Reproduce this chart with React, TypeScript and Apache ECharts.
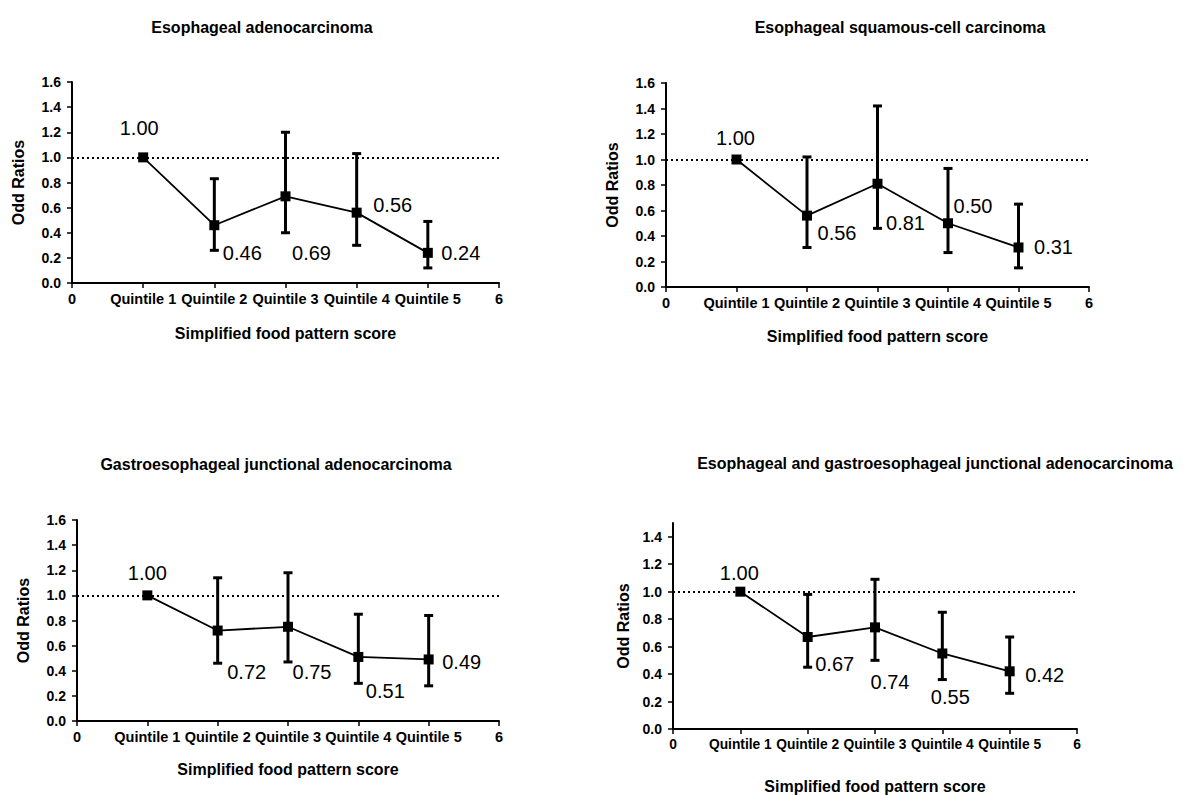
import React, { useEffect, useRef } from "react";
import * as echarts from "echarts";

// ---- data ----
const xTickLabels = ["0", "Quintile 1", "Quintile 2", "Quintile 3", "Quintile 4", "Quintile 5", "6"];
const quintiles = [1, 2, 3, 4, 5];
const refValue = 1.0;

const titles = [
  "Esophageal adenocarcinoma",
  "Esophageal squamous-cell carcinoma",
  "Gastroesophageal junctional adenocarcinoma",
  "Esophageal and gastroesophageal junctional adenocarcinoma",
];
const xAxisName = "Simplified food pattern score";
const yAxisName = "Odd Ratios";

const or1 = [1.0, 0.46, 0.69, 0.56, 0.24];
const lo1 = [null, 0.26, 0.4, 0.3, 0.12];
const hi1 = [null, 0.83, 1.2, 1.03, 0.49];

const or2 = [1.0, 0.56, 0.81, 0.5, 0.31];
const lo2 = [null, 0.31, 0.46, 0.27, 0.15];
const hi2 = [null, 1.02, 1.42, 0.93, 0.65];

const or3 = [1.0, 0.72, 0.75, 0.51, 0.49];
const lo3 = [null, 0.46, 0.47, 0.3, 0.28];
const hi3 = [null, 1.14, 1.18, 0.85, 0.84];

const or4 = [1.0, 0.67, 0.74, 0.55, 0.42];
const lo4 = [null, 0.45, 0.5, 0.36, 0.26];
const hi4 = [null, 0.98, 1.09, 0.85, 0.67];

const yTicks16 = [0, 0.2, 0.4, 0.6, 0.8, 1.0, 1.2, 1.4, 1.6];
const yTicks14 = [0, 0.2, 0.4, 0.6, 0.8, 1.0, 1.2, 1.4];

// ---- layout / style (not data) ----
const FONT = "'Liberation Sans', Arial, sans-serif";

const panels = [
  { or: or1, lo: lo1, hi: hi1, yMax: 1.6, yTicks: yTicks16, xFont: 14.5,
    grid: { left: 72, top: 82, width: 427, height: 201 },
    title: [262, 27], yGap: 46, xGap: 42,
    offsets: [[-4, -29], [28, 28], [26, 57], [36, -8], [33, 0]] },
  { or: or2, lo: lo2, hi: hi2, yMax: 1.6, yTicks: yTicks16, xFont: 14.5,
    grid: { left: 666, top: 83, width: 423, height: 204 },
    title: [900, 27], yGap: 46, xGap: 41,
    offsets: [[-1, -22], [30, 17], [28, 39], [25, -17], [35, 0]] },
  { or: or3, lo: lo3, hi: hi3, yMax: 1.6, yTicks: yTicks16, xFont: 14.5,
    grid: { left: 77, top: 520, width: 422, height: 201 },
    title: [276, 464], yGap: 46, xGap: 40,
    offsets: [[0, -22], [29, 41], [24, 45], [27, 34], [33, 3]] },
  { or: or4, lo: lo4, hi: hi4, yMax: 1.5, yTicks: yTicks14, xFont: 13.8,
    grid: { left: 673, top: 523, width: 404, height: 206 },
    title: [935, 463], yGap: 42, xGap: 49,
    offsets: [[-1, -19], [27, 27], [15, 55], [8, 44], [35, 4]] },
];

function buildOption() {
  const grid: any[] = [];
  const xAxis: any[] = [];
  const yAxis: any[] = [];
  const series: any[] = [];
  const graphic: any[] = [];

  panels.forEach((p, i) => {
    grid.push({ ...p.grid, containLabel: false, outerBoundsMode: "none" });
    xAxis.push({
      type: "value", gridIndex: i, min: 0, max: 6, interval: 1,
      name: xAxisName, nameLocation: "middle", nameGap: p.xGap, nameMoveOverlap: false,
      nameTextStyle: { fontFamily: FONT, fontWeight: "bold", fontSize: 16, color: "#000" },
      axisLine: { show: true, onZero: false, lineStyle: { color: "#000", width: 2 } },
      axisTick: { show: true, length: 5, lineStyle: { color: "#000", width: 1.5 } },
      axisLabel: {
        margin: 8, color: "#000", fontFamily: FONT, fontWeight: "bold", fontSize: p.xFont,
        formatter: (v: number) => xTickLabels[Math.round(v)] ?? "",
      },
      splitLine: { show: false },
    });
    yAxis.push({
      type: "value", gridIndex: i, min: 0, max: p.yMax, interval: 0.2,
      name: yAxisName, nameLocation: "middle", nameGap: p.yGap, nameMoveOverlap: false,
      nameTextStyle: { fontFamily: FONT, fontWeight: "bold", fontSize: 16, color: "#000" },
      axisLine: { show: true, onZero: false, lineStyle: { color: "#000", width: 2 } },
      axisTick: { show: true, length: 5, customValues: p.yTicks, lineStyle: { color: "#000", width: 1.5 } },
      axisLabel: {
        margin: 11, color: "#000", fontFamily: FONT, fontWeight: "bold", fontSize: 14,
        customValues: p.yTicks,
        formatter: (v: number) => v.toFixed(1),
      },
      splitLine: { show: false },
    });

    const errData = quintiles
      .map((q, k) => [q, p.lo[k], p.hi[k]])
      .filter((d) => d[1] != null && d[2] != null);

    series.push({
      type: "custom",
      xAxisIndex: i, yAxisIndex: i,
      data: errData,
      encode: { x: 0, y: [1, 2] },
      z: 3,
      silent: true,
      renderItem: (params: any, api: any) => {
        const x = api.value(0);
        const pLo = api.coord([x, api.value(1)]);
        const pHi = api.coord([x, api.value(2)]);
        const cap = 4.5;
        const st = { stroke: "#000", lineWidth: 3 };
        return {
          type: "group",
          children: [
            { type: "line", shape: { x1: pLo[0], y1: pLo[1], x2: pHi[0], y2: pHi[1] }, style: st },
            { type: "line", shape: { x1: pLo[0] - cap, y1: pLo[1], x2: pLo[0] + cap, y2: pLo[1] }, style: st },
            { type: "line", shape: { x1: pHi[0] - cap, y1: pHi[1], x2: pHi[0] + cap, y2: pHi[1] }, style: st },
          ],
        };
      },
    });

    series.push({
      type: "line",
      xAxisIndex: i, yAxisIndex: i,
      z: 4,
      symbol: "rect",
      symbolSize: 10,
      itemStyle: { color: "#000" },
      lineStyle: { color: "#000", width: 1.8 },
      data: quintiles.map((q, k) => ({
        value: [q, p.or[k]],
        label: { offset: p.offsets[k] },
      })),
      label: {
        show: true, position: "inside", color: "#000",
        fontFamily: FONT, fontSize: 20,
        formatter: (prm: any) => Number(prm.value[1]).toFixed(2),
      },
      markLine: {
        silent: true, symbol: "none", animation: false,
        label: { show: false },
        lineStyle: { color: "#000", width: 2, type: [2, 3] },
        data: [{ yAxis: refValue }],
      },
    });

    graphic.push({
      type: "text",
      x: p.title[0], y: p.title[1],
      style: {
        text: titles[i], fill: "#000",
        font: `bold 16px ${FONT}`,
        textAlign: "center", textVerticalAlign: "middle",
      },
    });
  });

  return {
    animation: false,
    backgroundColor: "#fff",
    grid, xAxis, yAxis, series, graphic,
  };
}

export default function App() {
  const ref = useRef<HTMLDivElement>(null);
  useEffect(() => {
    document.body.style.margin = "0";
    if (!ref.current) return;
    const chart = echarts.init(ref.current, null, { renderer: "svg" });
    chart.setOption(buildOption() as any);
    return () => chart.dispose();
  }, []);
  return <div ref={ref} style={{ width: 1189, height: 795 }} />;
}
